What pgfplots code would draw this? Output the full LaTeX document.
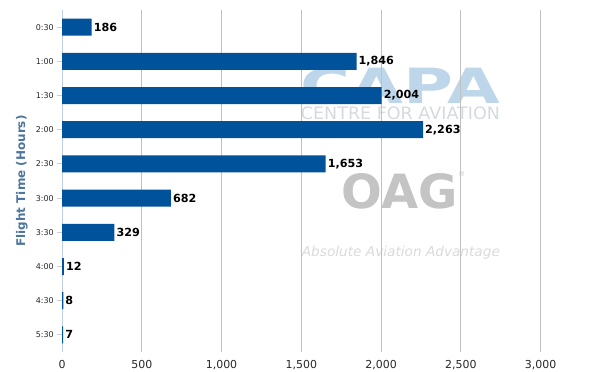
\documentclass[border=0pt]{standalone}
\usepackage{pgfplots}
\pgfplotsset{compat=1.18}
\usepackage{fontspec}
\setmainfont{DejaVu Sans}
\setsansfont{DejaVu Sans}
\definecolor{barblue}{RGB}{0,82,155}
\definecolor{axtitle}{RGB}{77,117,158}
\definecolor{axline}{RGB}{192,208,224}
\definecolor{gridc}{RGB}{192,192,192}
\definecolor{lbl}{RGB}{40,40,40}
\definecolor{capablue}{RGB}{190,214,234}
\definecolor{capagrey}{RGB}{212,218,224}
\definecolor{oaggrey}{RGB}{196,196,196}
\definecolor{absgrey}{RGB}{218,218,218}
\begin{document}
\begin{tikzpicture}[x=1bp,y=1bp]
\path (0,0) rectangle (600,371);
% watermark
\node[anchor=base west,inner sep=0pt,text=capablue] at (300.7,268) {\resizebox{199bp}{36bp}{\bfseries CAPA}};
\node[anchor=base west,inner sep=0pt,text=capagrey] at (300.7,251.7) {\resizebox{199bp}{12.7bp}{CENTRE FOR AVIATION}};
\node[anchor=base west,inner sep=0pt,text=oaggrey] at (341.7,163) {\resizebox{116bp}{35bp}{\bfseries OAG}};
\node[anchor=base west,inner sep=0pt,text=oaggrey] at (458,195) {\fontsize{7}{8}\selectfont ®};
\node[anchor=base west,inner sep=0pt,text=absgrey] at (301.7,115) {\resizebox{198bp}{!}{\itshape Absolute Aviation Advantage}};
\begin{axis}[
  at={(62bp,19bp)}, anchor=south west,
  scale only axis, width=510.5bp, height=342bp,
  xbar, bar width=17bp,
  xmin=0, xmax=3200, ymin=-0.5, ymax=9.5,
  y dir=reverse,
  ytick={0,...,9},
  yticklabels={0:30,1:00,1:30,2:00,2:30,3:00,3:30,4:00,4:30,5:30},
  xtick={0,500,1000,1500,2000,2500,3000},
  /pgf/number format/assume math mode=true,
  /pgf/number format/1000 sep={,},
  scaled x ticks=false,
  axis y line*=left, axis x line*=bottom,
  x axis line style={draw=none},
  y axis line style={draw=axline, line width=1bp},
  xtick style={draw=none},
  ytick style={draw=axline, line width=1bp},
  tick align=outside, major tick length=5bp,
  xmajorgrids, grid style={draw=gridc, line width=1bp},
  yticklabel style={font=\fontsize{8}{9}\selectfont, text=lbl, inner sep=0pt, xshift=-3bp},
  xticklabel style={font=\fontsize{11}{13}\selectfont, text=lbl, inner sep=0pt, yshift=-3bp},
  ylabel={Flight Time (Hours)},
  ylabel style={at={(axis description cs:-0.0784,0.5)}, anchor=center, font=\fontsize{12}{14}\selectfont\bfseries, text=axtitle},
  nodes near coords,
  nodes near coords style={font=\fontsize{11.2}{13}\selectfont\bfseries, text=black, anchor=west, inner sep=0pt, xshift=2bp, /pgf/number format/1000 sep={,}},
  clip=false,
]
\addplot[fill=barblue, draw=none] coordinates {
(186,0) (1846,1) (2004,2) (2263,3) (1653,4) (682,5) (329,6) (12,7) (8,8) (7,9)
};
\end{axis}
\end{tikzpicture}
\end{document}
